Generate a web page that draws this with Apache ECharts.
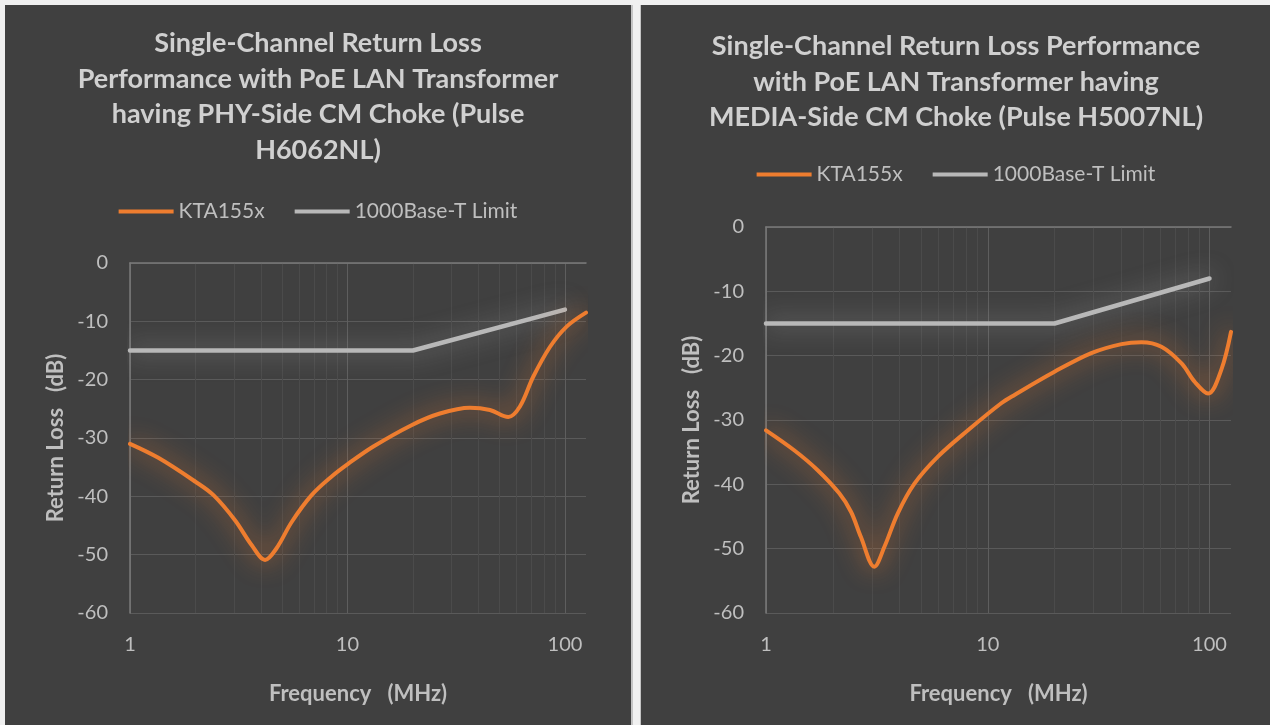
<!DOCTYPE html>
<html>
<head>
<meta charset="utf-8">
<script src="https://cdn.jsdelivr.net/npm/echarts@6/dist/echarts.min.js"></script>
<style>
  html, body { margin: 0; padding: 0; background: #f0f0f0; width: 1270px; height: 725px; overflow: hidden; }
  .panel { position: absolute; top: 5px; height: 720px; background: #404040; }
  #left { left: 5px; width: 626px; border-right: 2px solid #c4c4c4; }
  #right { left: 640px; width: 630px; border-left: 1px solid #c4c4c4; }
</style>
</head>
<body>
<div id="left" class="panel"></div>
<div id="right" class="panel"></div>
<script>
// ---------- data ----------
const leftTitle = 'Single-Channel Return Loss\nPerformance with PoE LAN Transformer\nhaving PHY-Side CM Choke (Pulse\nH6062NL)';
const rightTitle = 'Single-Channel Return Loss Performance\nwith PoE LAN Transformer having\nMEDIA-Side CM Choke (Pulse H5007NL)';
const seriesNames = ['KTA155x', '1000Base-T Limit'];
const xAxisName = 'Frequency   (MHz)';
const yAxisName = 'Return Loss   (dB)';

const leftFreq = [1, 1.35, 2.0, 2.42, 3.04, 3.63, 4.18, 4.72, 5.54, 6.84, 8.46, 10.1, 13.1, 19.7, 26.6, 36.6, 45.2, 54.9, 62.1, 71.5, 85.3, 101.8, 125];
const leftRL   = [-31.0, -33.4, -37.5, -39.8, -44.1, -48.4, -50.9, -48.9, -44.4, -39.8, -36.6, -34.4, -31.5, -27.8, -25.8, -24.8, -25.2, -26.4, -24.6, -19.5, -14.4, -10.9, -8.5];

const rightFreq = [1, 1.34, 1.71, 2.14, 2.42, 2.68, 3.08, 3.42, 3.93, 4.67, 5.96, 8.14, 11.5, 13.2, 20, 29.3, 40.1, 49.3, 60.7, 74.8, 85.9, 98.6, 113, 125];
const rightRL   = [-31.6, -34.7, -37.8, -41.4, -44.3, -48.2, -52.8, -49.7, -44.5, -39.9, -35.7, -31.6, -27.4, -26.1, -22.5, -19.6, -18.2, -17.9, -18.6, -21.2, -24.1, -25.9, -22.2, -16.3];

const limitFreq = [1, 20, 100];
const limitRL   = [-15, -15, -8];

const minorGridFreq = [2, 3, 4, 5, 6, 7, 8, 9, 20, 30, 40, 50, 60, 70, 80, 90];
const xMin = 1, xMax = 125;
const yMin = -60, yMax = 0, yStep = 10;

// ---------- chart ----------
const FONT = 'Lato, "Open Sans", sans-serif';
const TXT = '#bfbfbf';
function zip(a, b) { return a.map((v, i) => [v, b[i]]); }

function makeOption(cfg) {
  return {
    backgroundColor: '#404040',
    animation: false,
    title: {
      text: cfg.title, left: 'center', top: cfg.titleTop,
      textStyle: { color: '#d0d0d0', fontFamily: FONT, fontWeight: 'bold', fontSize: 27, lineHeight: 35.5 }
    },
    legend: {
      top: cfg.legendTop, left: 'center',
      icon: 'rect', itemWidth: 55, itemHeight: 4, itemGap: 30,
      textStyle: { color: TXT, fontFamily: FONT, fontSize: 21 },
      data: seriesNames
    },
    grid: { left: 125, right: cfg.gridRight, top: cfg.gridTop, bottom: 112 },
    xAxis: {
      type: 'log', logBase: 10, min: xMin, max: xMax,
      name: xAxisName, nameLocation: 'middle', nameGap: 70,
      nameTextStyle: { color: TXT, fontFamily: FONT, fontWeight: 'bold', fontSize: 22 },
      axisLine: { show: true, lineStyle: { color: '#7a7a7a', width: 1.5 } },
      axisTick: { show: false },
      axisLabel: {
        color: TXT, fontFamily: FONT, fontSize: 20, margin: 22, showMaxLabel: false,
        formatter: function (v) {
          const l = Math.log10(v);
          return Math.abs(l - Math.round(l)) < 1e-6 ? String(Math.round(v)) : '';
        }
      },
      splitLine: { show: true, showMaxLine: false, lineStyle: { color: '#5e5e5e', width: 1 } }
    },
    yAxis: {
      type: 'value', min: yMin, max: yMax, interval: yStep,
      name: yAxisName, nameLocation: 'middle', nameGap: cfg.yNameGap, nameRotate: 90,
      nameTextStyle: { color: TXT, fontFamily: FONT, fontWeight: 'bold', fontSize: 22 },
      axisLine: { show: true, lineStyle: { color: '#7a7a7a', width: 1.5 } },
      axisTick: { show: false },
      axisLabel: { color: TXT, fontFamily: FONT, fontSize: 20, margin: 22 },
      splitLine: { show: true, lineStyle: { color: '#5a5a5a', width: 1 } }
    },
    series: [
      {
        name: 'minor-grid', type: 'line', data: [], silent: true, z: 0, zlevel: 0,
        markLine: {
          silent: true, symbol: 'none', label: { show: false }, z: 0, animation: false,
          lineStyle: { color: '#4b4b4b', width: 1, type: 'solid' },
          data: minorGridFreq.map(f => ({ xAxis: f }))
        }
      },
      {
        name: seriesNames[1], type: 'line', z: 6,
        data: zip(limitFreq, limitRL), showSymbol: false, symbol: 'none',
        color: '#b8b8b8',
        lineStyle: { color: '#b8b8b8', width: 4.5, cap: 'round', shadowBlur: 24, shadowColor: 'rgba(200,200,200,0.6)' }
      },
      {
        name: seriesNames[0], type: 'line', z: 7,
        data: zip(cfg.freq, cfg.rl), showSymbol: false, symbol: 'none',
        smooth: 0.35,
        color: '#ee7d2f',
        lineStyle: { color: '#ee7d2f', width: 4, cap: 'round', shadowBlur: 24, shadowColor: 'rgba(237,125,49,0.95)' }
      }
    ]
  };
}

const leftChart = echarts.init(document.getElementById('left'), null, { renderer: 'canvas' });
leftChart.setOption(makeOption({
  title: leftTitle, titleTop: 16, legendTop: 191, gridTop: 258, gridRight: 45, yNameGap: 62,
  freq: leftFreq, rl: leftRL
}));

const rightChart = echarts.init(document.getElementById('right'), null, { renderer: 'canvas' });
rightChart.setOption(makeOption({
  title: rightTitle, titleTop: 19, legendTop: 154, gridTop: 222, gridRight: 40, yNameGap: 63,
  freq: rightFreq, rl: rightRL
}));
</script>
</body>
</html>
